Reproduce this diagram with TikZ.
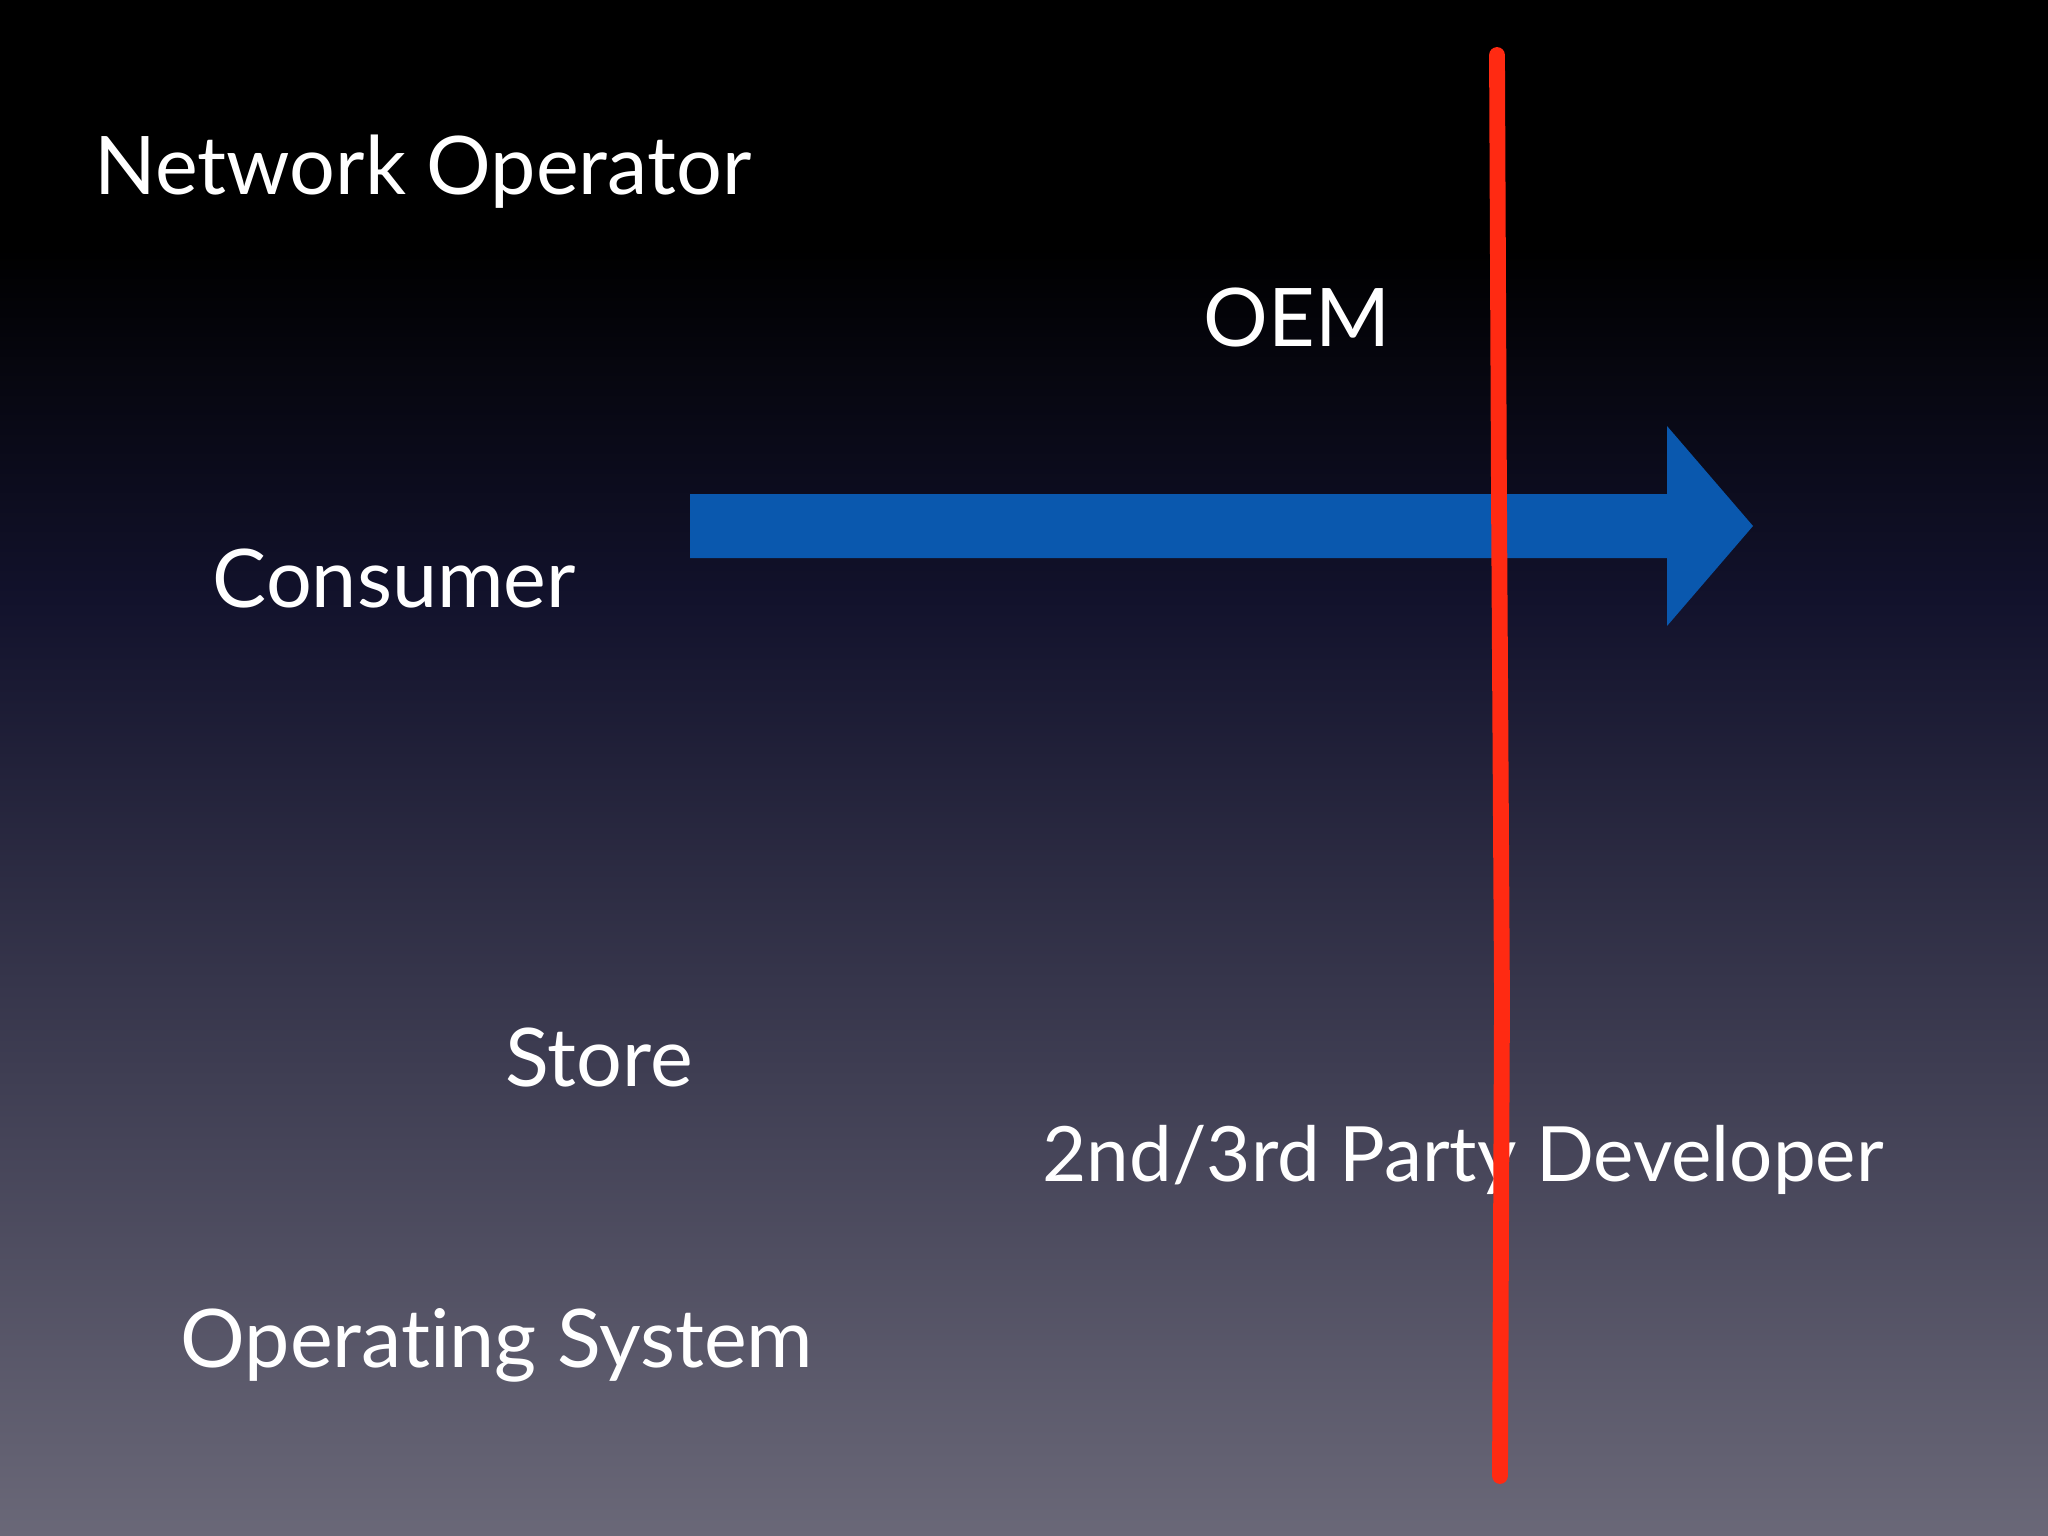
\documentclass[tikz,border=0pt]{standalone}
\usepackage{fontspec}
\setmainfont[Ligatures=NoCommon]{Lato}
\definecolor{arrowblue}{HTML}{0A58AE}
\definecolor{redline}{HTML}{FF2A12}
\definecolor{bgbottom}{HTML}{6A6878}
\definecolor{bgmid}{HTML}{12122C}
\tikzset{lbl/.style={text=white,font=\fontsize{23}{28}\selectfont,anchor=west,inner sep=0pt}}
\begin{document}
\begin{tikzpicture}[x=0.01cm,y=-0.01cm]
\useasboundingbox (0,0) rectangle (2048,1536);
\fill[black] (0,0) rectangle (2048,250);
\fill[top color=black,bottom color=bgmid] (0,249) rectangle (2048,600);
\fill[top color=bgmid,bottom color=bgbottom] (0,599) rectangle (2048,1536);
\node[lbl] (net) at (94,172) {Network Operator};
\node[lbl,anchor=center] (oem) at (1297,317) {OEM};
\node[lbl] (cons) at (212,579) {Consumer};
\node[lbl] (store) at (505,1058) {Store};
\node[lbl,font=\fontsize{21.7}{26}\selectfont] (dev) at (1042,1160) {2nd/3rd Party Developer};
\node[lbl] (os) at (180,1345) {Operating System};
\fill[arrowblue] (690,494) -- (1667,494) -- (1667,426) -- (1753,526) -- (1667,626) -- (1667,558) -- (690,558) -- cycle;
\draw[redline,line width=4.5pt,line cap=round] (1497,55) -- (1499,500) -- (1502,1000) -- (1500,1476);
\end{tikzpicture}
\end{document}
